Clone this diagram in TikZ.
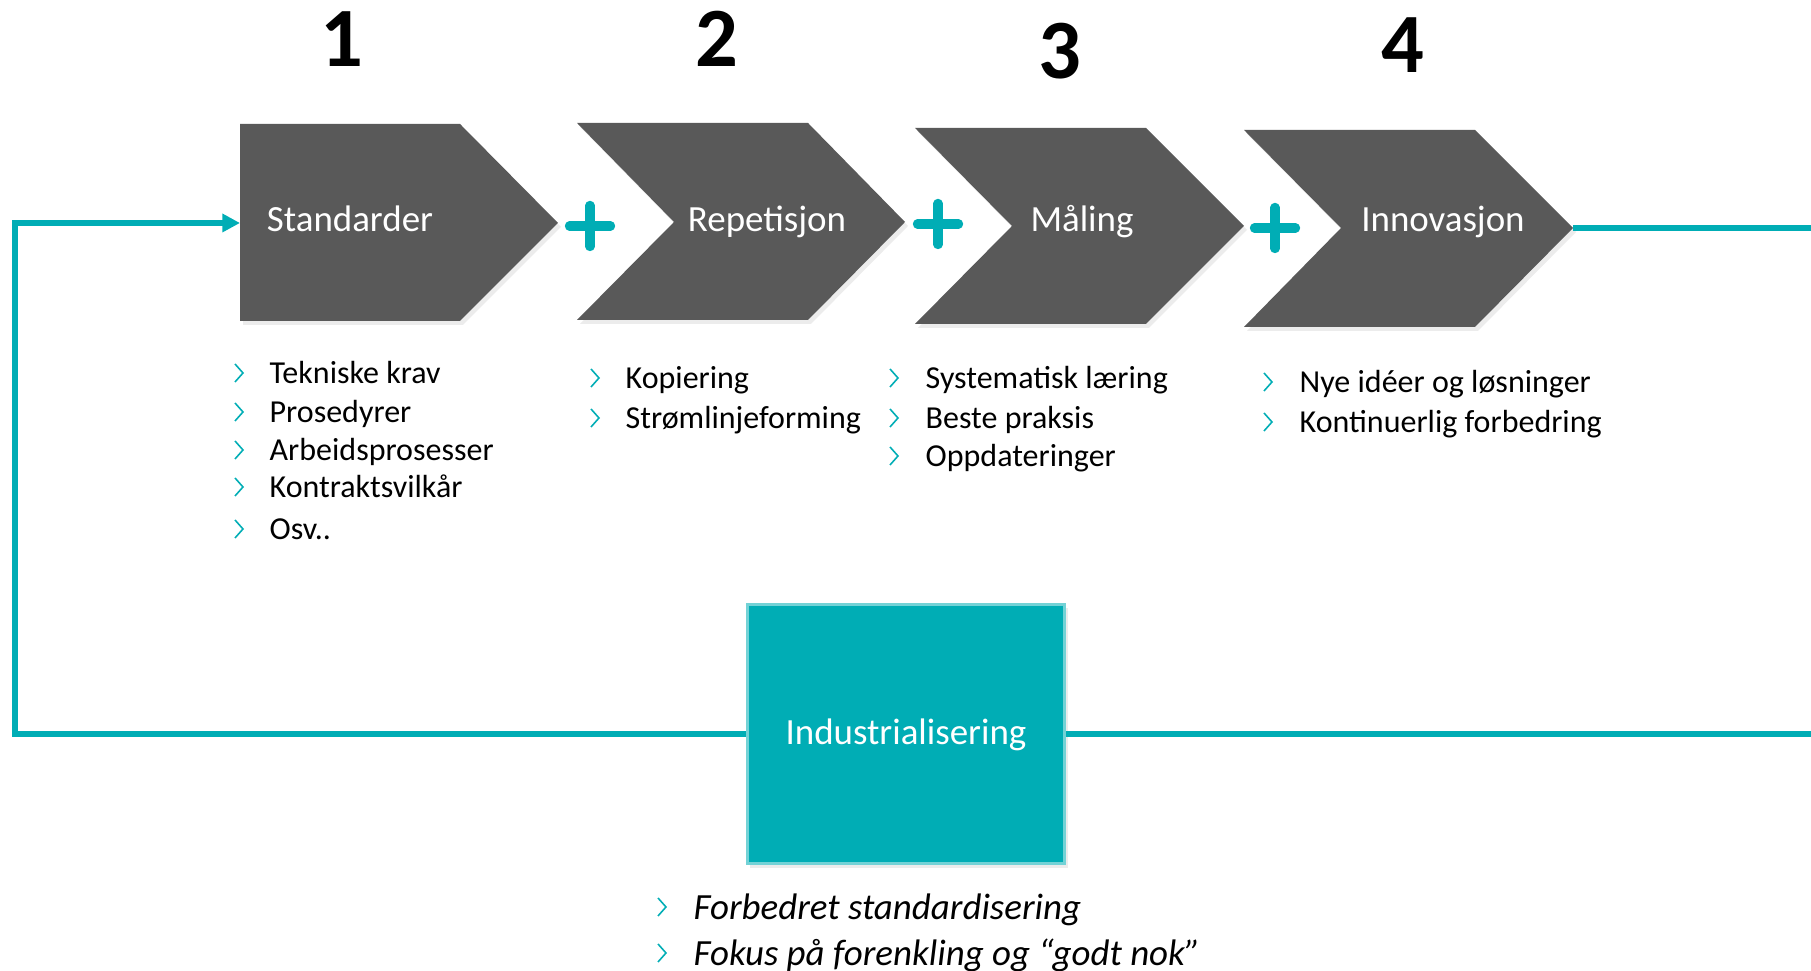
\documentclass[tikz,border=0pt]{standalone}
\usepackage{fontspec}
\setmainfont{Carlito}
\usetikzlibrary{shapes.misc, arrows.meta, positioning, shadows}
\definecolor{kricka}{RGB}{0,173,181}
\definecolor{morkgra}{RGB}{89,89,89}
\tikzset{pics/bul/.style={code={\draw[kricka, line width=0.45pt] (-4,-9) -- (4,0) -- (-4,9);}}}

\begin{document}
\begin{tikzpicture}[x=0.01cm, y=-0.01cm,
  chev/.style={fill=morkgra, drop shadow={shadow xshift=0.03cm, shadow yshift=-0.04cm, opacity=0.15}},
  lbl/.style={text=white, inner sep=0pt, font=\fontsize{10.5}{12}\selectfont, text height=7pt, text depth=0pt},
  num/.style={inner sep=0pt, font=\fontsize{24}{28}\selectfont\bfseries, text height=15pt, text depth=0pt},
  plus/.style={cross out, draw=kricka, line width=2.6pt, line cap=round, minimum size=0.2cm, inner sep=0pt, rotate=45},
  item/.style={anchor=west, inner sep=0pt, font=\fontsize{9.1}{11}\selectfont, text height=6pt, text depth=0pt},
  kursiv/.style={item, font=\fontsize{10.5}{12}\selectfont\itshape, text height=7pt},
  boks/.style={rectangle, fill=kricka, draw=kricka!55!white, line width=0.8pt, minimum width=3.17cm, minimum height=2.59cm, inner sep=0pt,
    drop shadow={shadow xshift=0.03cm, shadow yshift=-0.04cm, opacity=0.15}},
  flow/.style={draw=kricka, line width=1.6pt},
  arr/.style={flow, -{Triangle[length=5pt, width=5pt]}}
]
\useasboundingbox (0,0) rectangle (1811,971);

% tall
\node[num] (n1) at (342,40) {1};
\node[num] (n2) at (717,40) {2};
\node[num] (n3) at (1060,52) {3};
\node[num] (n4) at (1403,46) {4};

% piler
\fill[chev] (240,124) -- (460,124) -- (558,223) -- (460,321) -- (240,321) -- cycle;
\fill[chev] (577,123) -- (808,123) -- (905,222) -- (808,320) -- (577,320) -- (674,222) -- cycle;
\fill[chev] (915,128) -- (1146,128) -- (1244,226) -- (1146,324) -- (915,324) -- (1012,226) -- cycle;
\fill[chev] (1244,130) -- (1475,130) -- (1573,228) -- (1475,327) -- (1244,327) -- (1341,228) -- cycle;
\coordinate (stdInn) at (240,223);
\coordinate (innSpiss) at (1573,228);

\node[lbl] (std) at (350,219) {Standarder};
\node[lbl] (rep) at (767,219) {Repetisjon};
\node[lbl] (mal) at (1082,219) {Måling};
\node[lbl] (inn) at (1443,219) {Innovasjon};

\node[plus] (p1) at (590,226) {};
\node[plus] (p2) at (938,224) {};
\node[plus] (p3) at (1275,228) {};

% punktlister
\foreach \t/\yy [count=\i] in {Tekniske krav/373, Prosedyrer/412, Arbeidsprosesser/450, Kontraktsvilkår/487, Osv../529} {
  \node[item] (std\i) at (269,\yy) {\t};
  \pic at (239,\yy) {bul};
}
\foreach \t/\yy [count=\i] in {Kopiering/378, Strømlinjeforming/418} {
  \node[item] (rep\i) at (625,\yy) {\t};
  \pic at (595,\yy) {bul};
}
\foreach \t/\yy [count=\i] in {Systematisk læring/378, Beste praksis/418, Oppdateringer/456} {
  \node[item] (mal\i) at (925,\yy) {\t};
  \pic at (894,\yy) {bul};
}
\foreach \t/\yy [count=\i] in {Nye idéer og løsninger/382, Kontinuerlig forbedring/422} {
  \node[item] (inn\i) at (1299,\yy) {\t};
  \pic at (1268,\yy) {bul};
}

% industrialisering
\node[boks] (ind) at (906,734) {};
\node[lbl] (indtekst) at (906,732) {Industrialisering};
\foreach \t/\yy [count=\i] in {Forbedret standardisering/907, Fokus på forenkling og “godt nok”/953} {
  \node[kursiv] (ind\i) at (693,\yy) {\t};
  \pic at (662,\yy) {bul};
}

% linjer
\coordinate (hjorne) at (15,223);
\coordinate (hoyre1) at (1811,228);
\coordinate (hoyre2) at (1811,734);
\draw[arr] (ind.west) -| (hjorne) -- (stdInn);
\draw[flow] (ind.east) -- (hoyre2);
\draw[flow] (innSpiss) -- (hoyre1);
\end{tikzpicture}
\end{document}
